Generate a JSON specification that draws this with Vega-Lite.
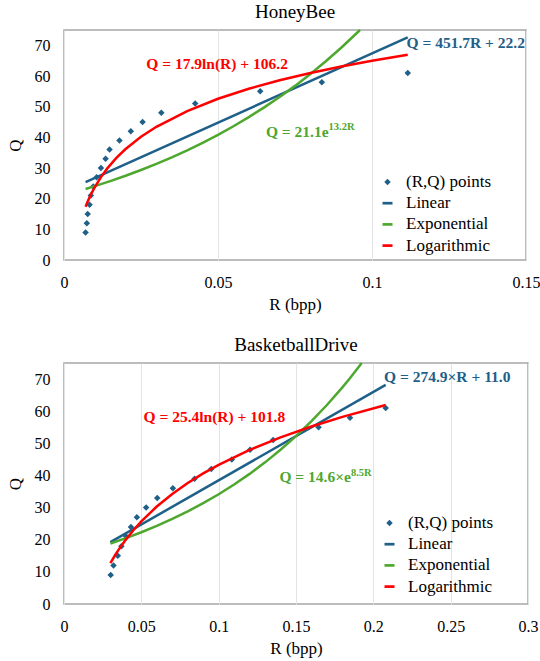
{
  "$schema": "https://vega.github.io/schema/vega-lite/v6.json",
  "background": "white",
  "padding": {"left": 5, "top": 2, "right": 5, "bottom": 5},
  "config": {
    "font": "Liberation Serif",
    "view": {"stroke": "#a6a6a6", "strokeWidth": 1.5},
    "axis": {
      "labelFont": "Liberation Serif", "titleFont": "Liberation Serif",
      "labelFontSize": 16, "titleFontSize": 17, "titleFontWeight": "normal",
      "labelColor": "#000", "titleColor": "#000",
      "domain": false, "ticks": false, "gridColor": "#e3e3e3",
      "labelFlush": false, "labelOverlap": false
    },
    "title": {"font": "Liberation Serif", "fontSize": 19, "fontWeight": "normal", "color": "#000"}
  },
  "datasets": {
    "hbPoints": [
      {"R": 0.0070, "Q": 9}, {"R": 0.0074, "Q": 12}, {"R": 0.0077, "Q": 15}, {"R": 0.0083, "Q": 18},
      {"R": 0.0087, "Q": 21}, {"R": 0.0095, "Q": 24}, {"R": 0.0106, "Q": 27}, {"R": 0.0120, "Q": 30},
      {"R": 0.0135, "Q": 33}, {"R": 0.0148, "Q": 36}, {"R": 0.0180, "Q": 39}, {"R": 0.0217, "Q": 42},
      {"R": 0.0255, "Q": 45}, {"R": 0.0316, "Q": 48}, {"R": 0.0426, "Q": 51}, {"R": 0.0637, "Q": 55},
      {"R": 0.0837, "Q": 58}, {"R": 0.1116, "Q": 61}
    ],
    "hbFits": [
      {"fit": "Linear", "R": 0.0070, "Q": 25.36}, {"fit": "Linear", "R": 0.1116, "Q": 72.61},
      {"fit": "Exponential", "R": 0.007, "Q": 23.14}, {"fit": "Exponential", "R": 0.010, "Q": 24.08},
      {"fit": "Exponential", "R": 0.015, "Q": 25.72}, {"fit": "Exponential", "R": 0.020, "Q": 27.47},
      {"fit": "Exponential", "R": 0.025, "Q": 29.35}, {"fit": "Exponential", "R": 0.030, "Q": 31.35},
      {"fit": "Exponential", "R": 0.035, "Q": 33.49}, {"fit": "Exponential", "R": 0.040, "Q": 35.78},
      {"fit": "Exponential", "R": 0.045, "Q": 38.22}, {"fit": "Exponential", "R": 0.050, "Q": 40.82},
      {"fit": "Exponential", "R": 0.055, "Q": 43.61}, {"fit": "Exponential", "R": 0.060, "Q": 46.59},
      {"fit": "Exponential", "R": 0.065, "Q": 49.76}, {"fit": "Exponential", "R": 0.070, "Q": 53.16},
      {"fit": "Exponential", "R": 0.075, "Q": 56.78}, {"fit": "Exponential", "R": 0.080, "Q": 60.66},
      {"fit": "Exponential", "R": 0.085, "Q": 64.80}, {"fit": "Exponential", "R": 0.090, "Q": 69.22},
      {"fit": "Exponential", "R": 0.095, "Q": 73.94}, {"fit": "Exponential", "R": 0.0961, "Q": 75.0},
      {"fit": "Logarithmic", "R": 0.007, "Q": 17.38}, {"fit": "Logarithmic", "R": 0.0075, "Q": 18.62},
      {"fit": "Logarithmic", "R": 0.008, "Q": 19.77}, {"fit": "Logarithmic", "R": 0.009, "Q": 21.88},
      {"fit": "Logarithmic", "R": 0.010, "Q": 23.77}, {"fit": "Logarithmic", "R": 0.012, "Q": 27.03},
      {"fit": "Logarithmic", "R": 0.014, "Q": 29.79}, {"fit": "Logarithmic", "R": 0.017, "Q": 33.27},
      {"fit": "Logarithmic", "R": 0.020, "Q": 36.18}, {"fit": "Logarithmic", "R": 0.025, "Q": 40.17},
      {"fit": "Logarithmic", "R": 0.030, "Q": 43.43}, {"fit": "Logarithmic", "R": 0.040, "Q": 48.58},
      {"fit": "Logarithmic", "R": 0.050, "Q": 52.58}, {"fit": "Logarithmic", "R": 0.060, "Q": 55.84},
      {"fit": "Logarithmic", "R": 0.070, "Q": 58.60}, {"fit": "Logarithmic", "R": 0.080, "Q": 60.99},
      {"fit": "Logarithmic", "R": 0.090, "Q": 63.10}, {"fit": "Logarithmic", "R": 0.100, "Q": 64.98},
      {"fit": "Logarithmic", "R": 0.1116, "Q": 66.95}
    ],
    "hbLabels": [
      {"fit": "Linear", "label": "Q = 451.7R + 22.2", "sup": "", "R": 0.1112, "Q": 70.9},
      {"fit": "Logarithmic", "label": "Q = 17.9ln(R) + 106.2", "sup": "", "R": 0.0497, "Q": 64.0},
      {"fit": "Exponential", "label": "Q = 21.1e", "sup": "13.2R", "R": 0.0859, "Q": 40.2}
    ],
    "bdPoints": [
      {"R": 0.0302, "Q": 9}, {"R": 0.0320, "Q": 12}, {"R": 0.0348, "Q": 15}, {"R": 0.0371, "Q": 18},
      {"R": 0.0402, "Q": 21}, {"R": 0.0433, "Q": 24}, {"R": 0.0471, "Q": 27}, {"R": 0.0531, "Q": 30},
      {"R": 0.0603, "Q": 33}, {"R": 0.0704, "Q": 36}, {"R": 0.0844, "Q": 39}, {"R": 0.0952, "Q": 42},
      {"R": 0.1085, "Q": 45}, {"R": 0.1203, "Q": 48}, {"R": 0.1352, "Q": 51}, {"R": 0.1646, "Q": 55},
      {"R": 0.1849, "Q": 58}, {"R": 0.2080, "Q": 61}
    ],
    "bdFits": [
      {"fit": "Linear", "R": 0.030, "Q": 19.25}, {"fit": "Linear", "R": 0.208, "Q": 68.18},
      {"fit": "Exponential", "R": 0.030, "Q": 18.84}, {"fit": "Exponential", "R": 0.040, "Q": 20.51},
      {"fit": "Exponential", "R": 0.050, "Q": 22.33}, {"fit": "Exponential", "R": 0.060, "Q": 24.31},
      {"fit": "Exponential", "R": 0.070, "Q": 26.47}, {"fit": "Exponential", "R": 0.080, "Q": 28.82},
      {"fit": "Exponential", "R": 0.090, "Q": 31.37}, {"fit": "Exponential", "R": 0.100, "Q": 34.16},
      {"fit": "Exponential", "R": 0.110, "Q": 37.19}, {"fit": "Exponential", "R": 0.120, "Q": 40.49},
      {"fit": "Exponential", "R": 0.130, "Q": 44.08}, {"fit": "Exponential", "R": 0.140, "Q": 47.99},
      {"fit": "Exponential", "R": 0.150, "Q": 52.25}, {"fit": "Exponential", "R": 0.160, "Q": 56.88},
      {"fit": "Exponential", "R": 0.170, "Q": 61.93}, {"fit": "Exponential", "R": 0.180, "Q": 67.43},
      {"fit": "Exponential", "R": 0.185, "Q": 70.35}, {"fit": "Exponential", "R": 0.1925, "Q": 75.0},
      {"fit": "Logarithmic", "R": 0.030, "Q": 12.73}, {"fit": "Logarithmic", "R": 0.033, "Q": 15.16},
      {"fit": "Logarithmic", "R": 0.036, "Q": 17.37}, {"fit": "Logarithmic", "R": 0.040, "Q": 20.04},
      {"fit": "Logarithmic", "R": 0.045, "Q": 23.03}, {"fit": "Logarithmic", "R": 0.050, "Q": 25.71},
      {"fit": "Logarithmic", "R": 0.060, "Q": 30.34}, {"fit": "Logarithmic", "R": 0.070, "Q": 34.25},
      {"fit": "Logarithmic", "R": 0.080, "Q": 37.65}, {"fit": "Logarithmic", "R": 0.090, "Q": 40.64},
      {"fit": "Logarithmic", "R": 0.100, "Q": 43.31}, {"fit": "Logarithmic", "R": 0.120, "Q": 47.94},
      {"fit": "Logarithmic", "R": 0.140, "Q": 51.86}, {"fit": "Logarithmic", "R": 0.160, "Q": 55.25},
      {"fit": "Logarithmic", "R": 0.180, "Q": 58.24}, {"fit": "Logarithmic", "R": 0.208, "Q": 61.92}
    ],
    "bdLabels": [
      {"fit": "Linear", "label": "Q = 274.9×R + 11.0", "sup": "", "R": 0.2069, "Q": 70.55},
      {"fit": "Logarithmic", "label": "Q = 25.4ln(R) + 101.8", "sup": "", "R": 0.0972, "Q": 58.1},
      {"fit": "Exponential", "label": "Q = 14.6×e", "sup": "8.5R", "R": 0.1855, "Q": 38.1}
    ]
  },
  "vconcat": [
    {
      "title": {"text": "HoneyBee", "offset": 3},
      "width": 462,
      "height": 230,
      "encoding": {
        "x": {"field": "R", "type": "quantitative", "title": "R (bpp)",
              "scale": {"domain": [0, 0.15], "nice": false, "zero": false},
              "axis": {"values": [0, 0.05, 0.1, 0.15], "format": ".2~f", "grid": true, "labelPadding": 14, "titlePadding": 6, "labelOverlap": false}},
        "y": {"field": "Q", "type": "quantitative", "title": "Q",
              "scale": {"domain": [0, 75], "nice": false},
              "axis": {"values": [0, 10, 20, 30, 40, 50, 60, 70], "grid": false, "labelPadding": 14, "titlePadding": 10, "labelOverlap": false}}
      },
      "layer": [
        {
          "data": {"name": "hbPoints"},
          "mark": {"type": "point", "filled": true, "opacity": 1, "size": 100},
          "encoding": {
            "color": {"datum": "(R,Q) points", "type": "nominal",
                      "scale": {"domain": ["(R,Q) points", "Linear", "Exponential", "Logarithmic"], "range": ["#1f6088", "#1f6088", "#4ea72e", "#ff0000"]},
                      "legend": {"orient": "none", "legendX": 315, "legendY": 143.5, "title": null, "labelFont": "Liberation Serif", "labelFontSize": 17, "labelColor": "#000", "symbolSize": 100, "rowPadding": 3.2, "labelOffset": 10, "padding": 0, "symbolStrokeWidth": 0, "labelLimit": 200}},
            "shape": {"datum": "(R,Q) points", "type": "nominal",
                      "scale": {"domain": ["(R,Q) points", "Linear", "Exponential", "Logarithmic"], "range": ["M0,-0.65L0.65,0L0,0.65L-0.65,0Z", "M-1,-0.27H1V0.27H-1Z", "M-1,-0.27H1V0.27H-1Z", "M-1,-0.27H1V0.27H-1Z"]},
                      "legend": {"orient": "none", "legendX": 315, "legendY": 143.5, "title": null, "labelFont": "Liberation Serif", "labelFontSize": 17, "labelColor": "#000", "symbolSize": 100, "rowPadding": 3.2, "labelOffset": 10, "padding": 0, "symbolStrokeWidth": 0, "labelLimit": 200}}
          }
        },
        {
          "data": {"name": "hbFits"},
          "mark": {"type": "line", "strokeWidth": 2.5},
          "encoding": {
            "color": {"field": "fit", "type": "nominal",
                      "scale": {"domain": ["(R,Q) points", "Linear", "Exponential", "Logarithmic"], "range": ["#1f6088", "#1f6088", "#4ea72e", "#ff0000"]},
                      "legend": null}
          }
        },
        {
          "data": {"name": "hbLabels"},
          "transform": [{"filter": "datum.fit == 'Linear'"}],
          "mark": {"type": "text", "font": "Liberation Serif", "fontWeight": "bold", "fontSize": 15.5, "align": "left", "baseline": "middle", "color": "#1f6088"},
          "encoding": {"text": {"field": "label"}}
        },
        {
          "data": {"name": "hbLabels"},
          "transform": [{"filter": "datum.fit == 'Logarithmic'"}],
          "mark": {"type": "text", "font": "Liberation Serif", "fontWeight": "bold", "fontSize": 15.5, "align": "center", "baseline": "middle", "color": "#ff0000"},
          "encoding": {"text": {"field": "label"}}
        },
        {
          "data": {"name": "hbLabels"},
          "transform": [{"filter": "datum.fit == 'Exponential'"}],
          "mark": {"type": "text", "font": "Liberation Serif", "fontWeight": "bold", "fontSize": 15.5, "align": "right", "baseline": "alphabetic", "color": "#4ea72e"},
          "encoding": {"text": {"field": "label"}}
        },
        {
          "data": {"name": "hbLabels"},
          "transform": [{"filter": "datum.fit == 'Exponential'"}],
          "mark": {"type": "text", "font": "Liberation Serif", "fontWeight": "bold", "fontSize": 10.5, "align": "left", "baseline": "alphabetic", "dy": -7, "color": "#4ea72e"},
          "encoding": {"text": {"field": "sup"}}
        }
      ]
    },
    {
      "title": {"text": "BasketballDrive", "offset": 3},
      "width": 464,
      "height": 241,
      "encoding": {
        "x": {"field": "R", "type": "quantitative", "title": "R (bpp)",
              "scale": {"domain": [0, 0.3], "nice": false, "zero": false},
              "axis": {"values": [0, 0.05, 0.1, 0.15, 0.2, 0.25, 0.3], "format": ".2~f", "grid": true, "labelPadding": 14, "titlePadding": 6, "labelOverlap": false}},
        "y": {"field": "Q", "type": "quantitative", "title": "Q",
              "scale": {"domain": [0, 75], "nice": false},
              "axis": {"values": [0, 10, 20, 30, 40, 50, 60, 70], "grid": false, "labelPadding": 14, "titlePadding": 10, "labelOverlap": false}}
      },
      "layer": [
        {
          "data": {"name": "bdPoints"},
          "mark": {"type": "point", "filled": true, "opacity": 1, "size": 100},
          "encoding": {
            "color": {"datum": "(R,Q) points", "type": "nominal",
                      "scale": {"domain": ["(R,Q) points", "Linear", "Exponential", "Logarithmic"], "range": ["#1f6088", "#1f6088", "#4ea72e", "#ff0000"]},
                      "legend": {"orient": "none", "legendX": 317, "legendY": 151.5, "title": null, "labelFont": "Liberation Serif", "labelFontSize": 17, "labelColor": "#000", "symbolSize": 100, "rowPadding": 3.2, "labelOffset": 10, "padding": 0, "symbolStrokeWidth": 0, "labelLimit": 200}},
            "shape": {"datum": "(R,Q) points", "type": "nominal",
                      "scale": {"domain": ["(R,Q) points", "Linear", "Exponential", "Logarithmic"], "range": ["M0,-0.65L0.65,0L0,0.65L-0.65,0Z", "M-1,-0.27H1V0.27H-1Z", "M-1,-0.27H1V0.27H-1Z", "M-1,-0.27H1V0.27H-1Z"]},
                      "legend": {"orient": "none", "legendX": 317, "legendY": 151.5, "title": null, "labelFont": "Liberation Serif", "labelFontSize": 17, "labelColor": "#000", "symbolSize": 100, "rowPadding": 3.2, "labelOffset": 10, "padding": 0, "symbolStrokeWidth": 0, "labelLimit": 200}}
          }
        },
        {
          "data": {"name": "bdFits"},
          "mark": {"type": "line", "strokeWidth": 2.5},
          "encoding": {
            "color": {"field": "fit", "type": "nominal",
                      "scale": {"domain": ["(R,Q) points", "Linear", "Exponential", "Logarithmic"], "range": ["#1f6088", "#1f6088", "#4ea72e", "#ff0000"]},
                      "legend": null}
          }
        },
        {
          "data": {"name": "bdLabels"},
          "transform": [{"filter": "datum.fit == 'Linear'"}],
          "mark": {"type": "text", "font": "Liberation Serif", "fontWeight": "bold", "fontSize": 15.5, "align": "left", "baseline": "middle", "color": "#1f6088"},
          "encoding": {"text": {"field": "label"}}
        },
        {
          "data": {"name": "bdLabels"},
          "transform": [{"filter": "datum.fit == 'Logarithmic'"}],
          "mark": {"type": "text", "font": "Liberation Serif", "fontWeight": "bold", "fontSize": 15.5, "align": "center", "baseline": "middle", "color": "#ff0000"},
          "encoding": {"text": {"field": "label"}}
        },
        {
          "data": {"name": "bdLabels"},
          "transform": [{"filter": "datum.fit == 'Exponential'"}],
          "mark": {"type": "text", "font": "Liberation Serif", "fontWeight": "bold", "fontSize": 15.5, "align": "right", "baseline": "alphabetic", "color": "#4ea72e"},
          "encoding": {"text": {"field": "label"}}
        },
        {
          "data": {"name": "bdLabels"},
          "transform": [{"filter": "datum.fit == 'Exponential'"}],
          "mark": {"type": "text", "font": "Liberation Serif", "fontWeight": "bold", "fontSize": 10.5, "align": "left", "baseline": "alphabetic", "dy": -6, "color": "#4ea72e"},
          "encoding": {"text": {"field": "sup"}}
        }
      ]
    }
  ],
  "spacing": 22,
  "resolve": {
    "scale": {"x": "independent", "y": "independent", "color": "independent", "shape": "independent"},
    "legend": {"color": "independent", "shape": "independent"}
  }
}
